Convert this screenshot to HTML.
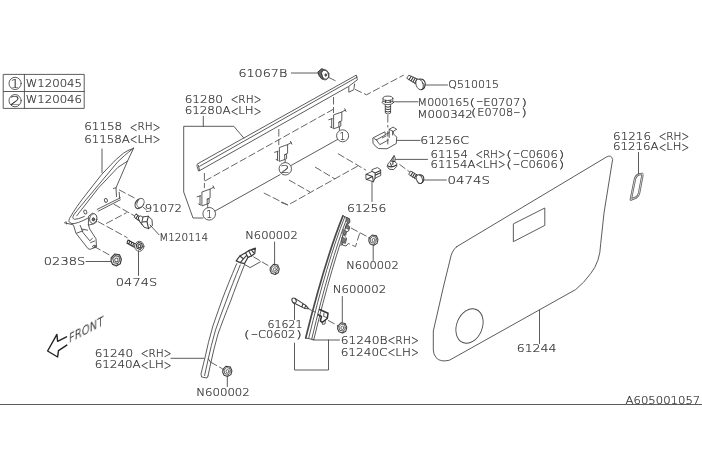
<!DOCTYPE html>
<html><head><meta charset="utf-8">
<style>
html,body{margin:0;padding:0;background:#fff;}
svg{display:block;}
text{font-family:"DejaVu Sans Light","DejaVu Sans","Liberation Sans",sans-serif;font-weight:200;font-size:10.8px;fill:#303030;stroke:#303030;stroke-width:0.22px;will-change:transform;}
.l{fill:none;stroke:#4a4a4a;stroke-width:0.9;stroke-linecap:round;stroke-linejoin:round;}
.d{fill:none;stroke:#555;stroke-width:0.9;stroke-dasharray:7.5 2.5;}
.k{fill:none;stroke:#222;stroke-width:1.4;stroke-linecap:round;stroke-linejoin:round;}
.w{fill:#fff;stroke:#4a4a4a;stroke-width:0.9;stroke-linejoin:round;}
</style></head><body>
<svg width="702" height="468" viewBox="0 0 702 468">
<rect width="702" height="468" fill="#fff"/>
<!-- TABLE -->
<g id="table">
<rect class="l" x="3.6" y="74.4" width="80.6" height="34"/>
<line class="l" x1="3.6" y1="91.5" x2="84.2" y2="91.5"/>
<line class="l" x1="24.4" y1="74.4" x2="24.4" y2="108.4"/>
<circle class="l" cx="15.1" cy="83.4" r="6.1"/>
<circle class="l" cx="15.1" cy="100.7" r="6.1"/>
</g>
<!-- BOTTOM LINE -->
<line class="l" x1="0" y1="404.5" x2="702" y2="404.5"/>
<defs>
<g id="nut">
<path class="w" style="stroke:#3c3c3c;stroke-width:1.05" d="M-4.4,-1.8 L-1.2,-5 L3,-4.2 L4.6,-0.4 L3.6,3.4 L0.4,5.2 L-3.2,4 L-4.6,1 Z"/>
<path class="l" style="stroke:#555;stroke-width:0.9" d="M-3.1,-1.3 L-0.8,-3.6 L2.4,-2.9 L3.4,0.4 L1.3,3.2 L-2.1,2.6 Z M-3.1,-1.3 L-4.4,-1.8 M2.4,-2.9 L3,-4.2 M1.3,3.2 L0.4,5.2"/>
<ellipse class="l" style="stroke:#555" cx="0.2" cy="0.1" rx="1.5" ry="1.7"/>
</g>
<g id="clip">
<path class="w" d="M201.9,192 L210.1,189.1 L210.1,197.8 L207.2,199.2 L207.2,204 L201.9,205.9 Z"/>
<path class="l" d="M207.2,199.2 L209.1,198.7 L209.1,203.2 L207.2,204 M207.7,204.5 L207.7,207.4"/>
<path class="l" d="M210.1,189.1 L213.6,187.2 M213,185.9 L214.3,188.6"/>
<path class="l" d="M197.1,196.8 L200.6,195.8 M200,195.8 V204.6 M198.6,204 L200.6,205"/>
</g>
</defs>
<!-- DOOR PANEL -->
<g id="panel" class="l">
<path d="M456.5,246.8 L606.3,157.1 Q611.6,154.2 612.6,159.5 L604,213 L600.7,243.8 Q600,262 590.7,273.5 Q584,283 575.6,289.6 L449.5,360.2 Q440,362.5 436,357.5 Q433.3,354 433.3,350 L433.3,331 L443.4,287 L450,260 Q451.5,251 456.5,246.8 Z"/>
<path d="M513.7,223.7 L544.8,208 L544.8,225.4 L513.7,241.5 Z"/>
<ellipse cx="469.5" cy="326" rx="12.8" ry="17.8" transform="rotate(22 469.5 326)"/>
</g>
<!-- 61216 -->
<path class="l" style="stroke-width:2.3;stroke:#555" d="M642.2,173.9 L638.9,174.4 Q636.2,175.2 635,178.8 L630.8,199.6 L636.3,197.4 Q638.4,196 639.1,193 L642.3,176 Z"/>
<path class="l" style="stroke-width:0.7;stroke:#fff" d="M642.2,173.9 L638.9,174.4 Q636.2,175.2 635,178.8 L630.8,199.6 L636.3,197.4 Q638.4,196 639.1,193 L642.3,176 Z"/>
<!-- STRIP 61280 -->
<g id="strip" class="l">
<path d="M197.8,163.7 L356.3,75.1 L357.4,79.8 L348.5,86.5 L199.6,170.6"/>
<path d="M199.6,166.3 L357,77.2"/>
<path d="M197.8,163.7 Q196.6,164.6 197,166.2 L198.6,171 L199.6,170.6 L198.4,165.4"/>
<path d="M348.8,86.9 L348.8,92.2 L353.8,89.8 L354.6,84"/>
</g>
<g id="stripdash" class="d">
<path d="M204.9,181 L335,108.3"/>
<path d="M204.4,173 V188"/>
<path d="M278.8,129 V145"/>
<path d="M333.5,97 V113"/>
<path d="M328.8,77.5 L337,81.5"/>
<path d="M355,89.4 L366.5,94.8 L403.8,75"/>
<path d="M337.9,153.6 L366,170.2"/>
<path d="M357.8,166 L288,205 L280,202"/>
<path d="M315,167 L335,179"/>
<path d="M289,180 L310,192"/>
<path d="M263.8,193 L287.8,205"/>
<path d="M387.8,115 V127.5"/>
<path d="M399.4,164.3 L410,172.2"/>
</g>
<use href="#clip"/>
<use href="#clip" transform="translate(77.5,-44.5)"/>
<use href="#clip" transform="translate(131.7,-77.1)"/>
<!-- numbered circles -->
<g id="numcircles">
<circle class="w" cx="209.2" cy="213.8" r="6.3"/>
<circle class="w" cx="285.3" cy="168.8" r="6.2"/>
<circle class="w" cx="342.6" cy="135.8" r="6"/>
</g>
<!-- TRIANGLE BRACKET 61158 -->
<g id="tri" class="l">
<path d="M133.6,148.2 Q127,150.5 123.6,153.1 L115.6,159.9 L101.9,174.2 L87.1,193 Q76,207 69.6,218.3 Q67.5,222.5 72,223.6 Q77,224 87.6,218.3"/>
<path d="M133.6,148.2 Q128,152.5 124.7,155.4 L117.9,161.7 L91.7,193 Q79,208 74,214.5 Q71.5,218.5 74.5,219.3 Q78,219.5 84.4,216.4"/>
<path d="M127.5,161.1 L117.9,167.4 L98.5,187.9 L76.7,215.8"/>
<path d="M133.6,148.2 L127.5,161.1 L116,187.8 L116.5,196.6 M113.4,188.4 L116,187.8 M119.2,192.3 L119.6,198.2"/>
<path d="M97.2,209.4 L120.3,197.8 M98.2,211.2 L120.3,199.8"/>
<ellipse cx="105.9" cy="200.4" rx="1.5" ry="1.9" transform="rotate(-25 105.9 200.4)"/>
<ellipse cx="85.3" cy="212" rx="1.5" ry="2" transform="rotate(-25 85.3 212)"/>
<path d="M64.5,222.8 L72.8,224.7 M66,221.5 L66.5,224"/>
<!-- lower bracket -->
<path d="M73.5,225.2 L75.9,233.1 L87.9,248.5 L89.8,249.4 L96.5,247 L96,238.8 L89.8,229.2 L88.4,225"/>
<path d="M80.2,225.4 L83,232.6 L89.8,240.8 L92.4,238.4 M76.6,233.2 L83,230.8 M81.6,229 L87.6,230.2 M90.6,242.6 L94.6,241"/>
<ellipse cx="94.1" cy="246.4" rx="1.5" ry="1.1" transform="rotate(-20 94.1 246.4)"/>
<!-- bush -->
<path class="w" d="M88.8,216 L92.4,213.2 L96,215 L96.6,222 L93.4,224 L88.8,225 Z"/>
<ellipse class="w" cx="93.3" cy="218.6" rx="3.6" ry="4.9" transform="rotate(12 93.3 218.6)"/>
<ellipse style="fill:#666" cx="93.4" cy="219.4" rx="1.3" ry="1.6" transform="rotate(12 93.4 219.4)"/>
</g>
<g class="d">
<path d="M119,189.8 L136.5,199"/>
<path d="M113.8,204.2 L134.4,215.8"/>
<path d="M106.2,223.5 L126.7,212.6"/>
<path d="M97.8,221.5 L127.5,237.8"/>
<path d="M94,246.4 L111.3,256"/>
</g>
<!-- cap 91072 -->
<g class="l">
<ellipse class="w" style="stroke-width:1.2" cx="138.8" cy="203.9" rx="3.5" ry="4.9" transform="rotate(22 138.8 203.9)"/>
<ellipse class="w" cx="140.5" cy="203" rx="3.4" ry="4.8" transform="rotate(22 140.5 203)"/>
<path d="M143.3,207.4 L146.4,209.8"/>
</g>
<!-- bolt M120114 -->
<g class="l" style="stroke:#333;stroke-width:1.05">
<path class="w" style="stroke:#333" d="M136.2,214.2 L141.4,217.8 L139.4,221 L134.4,217.4 Q134.2,214.6 136.2,214.2 Z"/>
<path d="M137.8,215.4 L136,218.6 M139.6,216.6 L137.8,219.8"/>
<ellipse class="w" style="stroke:#333" cx="142.2" cy="220.6" rx="2.6" ry="5.2" transform="rotate(-32 142.2 220.6)"/>
<path class="w" style="stroke:#333" d="M143.4,216.8 L148.4,216.2 L152,219.8 L152.4,225.6 L148.6,228.6 L144,227.2 L141.8,223.8 Z"/>
<path d="M148.4,216.2 L147,221.6 L148.6,228.6 M147,221.6 L142.4,222"/>
</g>
<!-- bolt 0474S left -->
<g class="l" style="stroke:#333;stroke-width:1.05">
<path d="M128,240 L135.8,244.2 L134.4,247.2 L127,243.2 Z M129.8,240.8 L128.8,244 M131.8,242 L130.8,245.2 M133.6,243 L132.8,246.2"/>
<ellipse class="w" cx="139.3" cy="246.3" rx="4.6" ry="5"/>
<path d="M136.4,244.6 L138.6,242.6 L141.8,243.6 L142.4,246.8 L140.2,249.4 L137,248.2 Z"/>
<ellipse cx="139.4" cy="246.2" rx="1.4" ry="1.6"/>
</g>
<use href="#nut" transform="translate(116.2,259.8) scale(1.12,1.16)"/>
<!-- clip 61067B -->
<g class="l">
<path class="w" d="M318.4,71.6 L321.6,68.9 L326.6,70.2 L329,73.4 L328.8,77.4 L325.2,80 L321.4,78.6 L318.8,75 Z"/>
<path style="fill:#666;stroke:#3a3a3a;stroke-width:0.9" d="M318.4,71.6 L321.6,68.9 L323.6,69.5 L321.2,72.8 L323.2,79.2 L321.4,78.6 L318.8,75 Z"/>
<ellipse cx="325.2" cy="74.8" rx="3.3" ry="4.7" transform="rotate(-18 325.2 74.8)"/>
<ellipse style="fill:#444" cx="325.8" cy="75" rx="0.8" ry="1.3"/>
</g>
<!-- screw Q510015 -->
<g class="l" style="stroke:#333;stroke-width:1.05">
<path class="w" d="M409.2,75.3 L418.5,79.6 L416,83.9 L407.1,78.5 Z"/>
<path d="M411.2,76.3 L409,79.7 M413.2,77.2 L411,80.9 M415.2,78.1 L413,82.1 M417,79 L414.8,83.2"/>
<ellipse class="w" cx="419.6" cy="84.4" rx="3.5" ry="5.5" transform="rotate(-20 419.6 84.4)"/>
<path d="M419.6,79 Q424.4,78.8 425.2,83 Q425.8,88 421.4,89.8"/>
</g>
<!-- bolt M000165 -->
<g class="l" style="stroke:#383838;stroke-width:1">
<path class="w" d="M385.3,103.6 V113 Q387.9,115.4 390.6,113 V103.6"/>
<path d="M385.3,106.6 Q387.9,108 390.6,106.6 M385.3,109 Q387.9,110.4 390.6,109 M385.3,111.4 Q387.9,112.8 390.6,111.4"/>
<ellipse class="w" cx="387.8" cy="102.4" rx="5.7" ry="2.2"/>
<path class="w" d="M383,98.3 V101.4 Q387.9,103.6 392.8,101.4 V98.3"/>
<ellipse class="w" cx="387.9" cy="98.3" rx="4.9" ry="2.2"/>
<path d="M385.6,100.2 V102.6 M390.2,100.2 V102.6"/>
</g>
<!-- clip 61256C -->
<g class="l">
<path class="w" d="M373.2,137.8 L384.9,131.8 L385.3,134.6 L389.2,132.6 L389.2,129.3 L393.1,127.1 L396.7,129.3 L393.2,131.4 L393.5,133.9 L396.7,137.1 L396.3,143.5 L387,148.8 L378.5,148.5 Q375,146.5 373.2,143.5 Z"/>
<path d="M389.2,129.3 L392.6,131.2 L393.2,131.4 M392.6,131.2 L392.6,135 M389.2,132.6 L389.2,137.4 M376.4,139.9 L385.3,134.9 M376.4,139.9 L379.8,144.6 L388.4,140 M374.2,138.6 L376.4,139.9 M382.4,137.8 L386,136"/>
<path d="M387.8,131.6 V136.2 M387.8,139 V144"/>
</g>
<!-- clip 61154 -->
<g class="l" style="stroke:#3a3a3a;stroke-width:1.05">
<path class="w" style="stroke:#3a3a3a" d="M393.9,155.7 L390.6,161 L388.2,163.4 L387.2,166.4 L389.2,169.2 L393.6,169.6 L396.6,166.6 L396.8,163.6 L394.8,161.6 L395.2,158.8 Z"/>
<path d="M390.6,161 L394.8,161.6 M388,166 Q391.6,168.2 396.6,165 M393.2,157.4 L392.8,164.4 M390.4,163.2 L391.6,166.4"/>
</g>
<!-- screw 0474S right -->
<g class="l" style="stroke:#333;stroke-width:1.05">
<path class="w" d="M411,171.2 L418.2,175.6 L416.2,179.2 L409,174.6 Z"/>
<path d="M412.8,172.2 L410.8,175.8 M414.6,173.4 L412.6,177 M416.4,174.5 L414.4,178.1"/>
<ellipse class="w" cx="419.4" cy="179.2" rx="2.9" ry="4.5" transform="rotate(-22 419.4 179.2)"/>
<path d="M419.6,174.8 Q423.4,174.8 423.8,178.4 Q424,182.4 420.6,183.6"/>
</g>
<!-- clip 61256 -->
<g class="l" style="stroke:#3a3a3a;stroke-width:1.05">
<path class="w" d="M366.2,174.3 L372,171.4 L372,169.6 L377.4,167.6 L380.6,169.6 L380.8,175.4 L375,178.4 L373.4,181.8 L366.4,179.4 Z"/>
<path d="M366.2,174.3 L372.6,176.6 L373.4,181.8 M372.6,176.6 L366.4,179.4 M372,171.4 L375.2,173 L375,178.4 M375.2,173 L380.6,170.6 M375.2,175.2 L380.6,172.8"/>
</g>
<!-- LEFT RAIL 61240 -->
<g id="lrail" class="l">
<path d="M236.7,263.7 Q228,284 222,300 Q216,317 212.9,326 Q208,343 204.9,358 L201,374 L201.6,377 L207,378 L208,376"/>
<path d="M244.4,265 Q236,286 231,300 Q223,320 218,334 Q213.5,350 211,362 L208,376"/>
<path d="M240.2,265 Q232,285 226.5,300 Q220,317 215.5,330 Q211,346 208,360 L204.6,375.5"/>
<path class="w" style="stroke-width:1.25;stroke:#3a3a3a" d="M236.2,260.9 L239.8,256 L245.5,252.8 L248.7,250.7 L255.4,248.2 L254.7,253.5 L251.5,256 L248,257.3 L244.4,263.7 L240.3,262.6 Z"/>
<path style="stroke:#3a3a3a;stroke-width:1.1" d="M239.8,256 L243.4,258.8 L240.3,262.6 M245.5,252.8 L248,257.3 M248.7,250.7 L251.5,256 M251.4,249.8 L253.6,252.6 M243.4,258.8 L246.4,255.6"/>
<path d="M244.4,264.4 L250.1,267.6 L260.4,261.8"/>
<path d="M208.4,358.8 L210.6,362.4"/>
</g>
<g class="d">
<path d="M253.3,256.7 L269.8,266.5"/>
<path d="M210.4,362 L222.5,368.8"/>
</g>
<use href="#nut" transform="translate(274.7,269.3)"/>
<use href="#nut" transform="translate(227.3,371.2)"/>
<!-- RIGHT RAIL 61240B -->
<g id="rrail" class="l">
<path style="stroke-width:1.7;stroke:#4a4a4a" d="M342.9,215.9 Q324.7,261.3 305.7,338"/>
<path d="M344.8,216.8 Q327,261.5 308.6,338.6"/>
<path d="M347,217.8 Q330,261.8 311.7,339.2"/>
<path d="M349,218.7 Q332.5,262 313.8,339.6"/>
<path d="M342.8,215.8 L349,218.6 L349.3,221 M305.5,338 L313.8,339.6"/>
<path style="stroke-width:0.9;stroke:#444" d="M349.3,221 L347.2,226 L349.6,228 L348.5,231 L346,232 L344.5,236 L346.6,238 L345,241.4 L343,242 L342.4,245 L346,246 L348.4,243.4"/>
<path d="M346.8,223.5 L345,228.5 M344,232 L342,238 M342.5,241 L341,245.6"/>
<path style="fill:#777;stroke:#444;stroke-width:0.7" d="M346.4,217.6 L349.6,219 L350,222.4 L348.4,223.6 L346.6,221.6 Z M346.8,224.4 L349.8,226.6 L348.6,229.4 L346,228 Z M343.6,229.6 L346.6,231.4 L345.8,235.2 L342.8,233.6 Z M342.6,237.2 L346.4,239.4 L345.4,243.4 L341.6,242 Z"/>
<!-- bracket lower -->
<path style="stroke-width:1.5;stroke:#333" d="M319.6,309.5 L328,313.3 L327.3,318.5 L322.2,322.3 L320.4,320.8 L321.5,316.5 L318.4,314.8"/>
<path d="M322.2,322.3 L322.4,324.4 L325,324 L325.4,320.6 M324,313 L323.6,316.4 L327,317.6"/>
<!-- pin 61621 -->
<ellipse class="w" style="stroke-width:1.1" cx="294.1" cy="300.6" rx="2" ry="2.6" transform="rotate(-30 294.1 300.6)"/>
<path style="stroke:#3a3a3a;stroke-width:1.05" d="M295,298.4 L305.8,305.4 L308.7,308.8 L304.6,308.4 L293.4,302.8 M305.8,305.4 L304.6,308.4 M303,303.8 L301.8,306.9"/>
</g>
<g class="d">
<path d="M351,228 L369.5,237.8"/>
<path d="M359.6,233.4 L355.5,246.7 L348.5,243.5"/>
<path d="M328,320.4 L337.8,325.6"/>
<path d="M309,309 L318.6,314"/>
</g>
<use href="#nut" transform="translate(373.4,240)"/>
<use href="#nut" transform="translate(342.2,327.8)"/>
<!-- FRONT ARROW -->
<path class="k" d="M66.5,336.8 L57.6,341.3 L56.9,334.4 L47.6,351 L57.6,357 L58.5,350.6 L66.8,345.1"/>
<!-- LEADERS -->
<g id="leaders" class="l">
<path d="M102,149 V172.5"/>
<path d="M150,225 L159,234.7"/>
<path d="M86,261.5 H111"/>
<path d="M138.5,251 V275.5"/>
<path d="M171,358.3 H204"/>
<path d="M291.3,73 H318"/>
<path d="M203.3,116.3 V126.3"/>
<path d="M243.8,138 L233.8,126.3 H183.7 V192 L193,218 H203"/>
<path d="M424.5,85 H447.5"/>
<path d="M393.6,101.8 H418"/>
<path d="M397.2,140.4 H420"/>
<path d="M395.3,159.4 H427.5"/>
<path d="M423,180 H446.3"/>
<path d="M372,181.5 V201.5"/>
<path d="M274.6,242 V264"/>
<path d="M373.2,245 V260.5"/>
<path d="M342.3,296.5 V323"/>
<path d="M227.3,376 V386.5"/>
<path d="M294.5,304 V319.5"/>
<path d="M294.5,343 V370 H328.5 V340"/>
<path d="M313,340 H339.5"/>
<path d="M539.5,310.3 V343.5"/>
<path d="M638.5,152.4 V174"/>
<path d="M215,211 L280,174.7"/>
<path d="M291,165.5 L337.5,139.5"/>
</g>
<g id="labels">
<text><tspan x="84.19" y="130.3" textLength="38.06" lengthAdjust="spacingAndGlyphs">61158</tspan> <tspan x="129.86" y="131.6" font-size="14.2" textLength="7.61" lengthAdjust="spacingAndGlyphs">&lt;</tspan><tspan x="137.47" y="130.3" textLength="15.22" lengthAdjust="spacingAndGlyphs">RH</tspan><tspan x="152.69" y="131.6" font-size="14.2" textLength="7.61" lengthAdjust="spacingAndGlyphs">&gt;</tspan></text>
<text><tspan x="84.19" y="142.5" textLength="45.67" lengthAdjust="spacingAndGlyphs">61158A</tspan><tspan x="129.86" y="143.8" font-size="14.2" textLength="7.61" lengthAdjust="spacingAndGlyphs">&lt;</tspan><tspan x="137.47" y="142.5" textLength="15.22" lengthAdjust="spacingAndGlyphs">LH</tspan><tspan x="152.69" y="143.8" font-size="14.2" textLength="7.61" lengthAdjust="spacingAndGlyphs">&gt;</tspan></text>
<text><tspan x="144.89" y="212.2" textLength="37.13" lengthAdjust="spacingAndGlyphs">91072</tspan></text>
<text><tspan x="159.21" y="241.1" textLength="48.88" lengthAdjust="spacingAndGlyphs">M120114</tspan></text>
<text><tspan x="43.88" y="264.5" textLength="41.25" lengthAdjust="spacingAndGlyphs">0238S</tspan></text>
<text><tspan x="115.88" y="286.0" textLength="41.25" lengthAdjust="spacingAndGlyphs">0474S</tspan></text>
<text><tspan x="94.66" y="356.8" textLength="38.44" lengthAdjust="spacingAndGlyphs">61240</tspan> <tspan x="140.79" y="358.1" font-size="14.2" textLength="7.69" lengthAdjust="spacingAndGlyphs">&lt;</tspan><tspan x="148.48" y="356.8" textLength="15.38" lengthAdjust="spacingAndGlyphs">RH</tspan><tspan x="163.86" y="358.1" font-size="14.2" textLength="7.69" lengthAdjust="spacingAndGlyphs">&gt;</tspan></text>
<text><tspan x="94.66" y="368.3" textLength="46.13" lengthAdjust="spacingAndGlyphs">61240A</tspan><tspan x="140.79" y="369.6" font-size="14.2" textLength="7.69" lengthAdjust="spacingAndGlyphs">&lt;</tspan><tspan x="148.48" y="368.3" textLength="15.38" lengthAdjust="spacingAndGlyphs">LH</tspan><tspan x="163.86" y="369.6" font-size="14.2" textLength="7.69" lengthAdjust="spacingAndGlyphs">&gt;</tspan></text>
<text><tspan x="238.43" y="77.0" textLength="48.84" lengthAdjust="spacingAndGlyphs">61067B</tspan></text>
<text><tspan x="184.67" y="102.5" textLength="38.33" lengthAdjust="spacingAndGlyphs">61280</tspan> <tspan x="230.67" y="103.8" font-size="14.2" textLength="7.67" lengthAdjust="spacingAndGlyphs">&lt;</tspan><tspan x="238.33" y="102.5" textLength="15.33" lengthAdjust="spacingAndGlyphs">RH</tspan><tspan x="253.67" y="103.8" font-size="14.2" textLength="7.67" lengthAdjust="spacingAndGlyphs">&gt;</tspan></text>
<text><tspan x="184.67" y="114.3" textLength="46.00" lengthAdjust="spacingAndGlyphs">61280A</tspan><tspan x="230.67" y="115.6" font-size="14.2" textLength="7.67" lengthAdjust="spacingAndGlyphs">&lt;</tspan><tspan x="238.33" y="114.3" textLength="15.33" lengthAdjust="spacingAndGlyphs">LH</tspan><tspan x="253.67" y="115.6" font-size="14.2" textLength="7.67" lengthAdjust="spacingAndGlyphs">&gt;</tspan></text>
<text><tspan x="448.38" y="88.3" textLength="50.75" lengthAdjust="spacingAndGlyphs">Q510015</tspan></text>
<text><tspan x="417.59" y="106.3" textLength="51.92" lengthAdjust="spacingAndGlyphs">M000165</tspan></text>
<text><tspan x="469.20" y="105.5" textLength="6.20" lengthAdjust="spacingAndGlyphs">(</tspan><tspan x="475.99" y="104.1" textLength="7.39" lengthAdjust="spacingAndGlyphs">-</tspan><tspan x="483.38" y="105.5" textLength="36.93" lengthAdjust="spacingAndGlyphs">E0707</tspan><tspan x="520.90" y="105.5" textLength="6.20" lengthAdjust="spacingAndGlyphs">)</tspan></text>
<text><tspan x="417.34" y="117.5" textLength="55.42" lengthAdjust="spacingAndGlyphs">M000342</tspan></text>
<text><tspan x="470.79" y="116.0" textLength="6.02" lengthAdjust="spacingAndGlyphs">(</tspan><tspan x="477.39" y="116.0" textLength="35.86" lengthAdjust="spacingAndGlyphs">E0708</tspan><tspan x="513.24" y="114.6" textLength="7.17" lengthAdjust="spacingAndGlyphs">-</tspan><tspan x="520.99" y="116.0" textLength="6.02" lengthAdjust="spacingAndGlyphs">)</tspan></text>
<text><tspan x="420.23" y="143.8" textLength="48.84" lengthAdjust="spacingAndGlyphs">61256C</tspan></text>
<text><tspan x="430.56" y="157.5" textLength="37.41" lengthAdjust="spacingAndGlyphs">61154</tspan> <tspan x="475.45" y="158.8" font-size="14.2" textLength="7.48" lengthAdjust="spacingAndGlyphs">&lt;</tspan><tspan x="482.94" y="157.5" textLength="14.96" lengthAdjust="spacingAndGlyphs">RH</tspan><tspan x="497.90" y="158.8" font-size="14.2" textLength="7.48" lengthAdjust="spacingAndGlyphs">&gt;</tspan><tspan x="505.98" y="157.5" textLength="6.29" lengthAdjust="spacingAndGlyphs">(</tspan><tspan x="512.86" y="156.1" textLength="7.48" lengthAdjust="spacingAndGlyphs">-</tspan><tspan x="520.35" y="157.5" textLength="37.41" lengthAdjust="spacingAndGlyphs">C0606</tspan><tspan x="558.36" y="157.5" textLength="6.29" lengthAdjust="spacingAndGlyphs">)</tspan></text>
<text><tspan x="430.56" y="168.0" textLength="44.89" lengthAdjust="spacingAndGlyphs">61154A</tspan><tspan x="475.45" y="169.3" font-size="14.2" textLength="7.48" lengthAdjust="spacingAndGlyphs">&lt;</tspan><tspan x="482.94" y="168.0" textLength="14.96" lengthAdjust="spacingAndGlyphs">LH</tspan><tspan x="497.90" y="169.3" font-size="14.2" textLength="7.48" lengthAdjust="spacingAndGlyphs">&gt;</tspan><tspan x="505.98" y="168.0" textLength="6.29" lengthAdjust="spacingAndGlyphs">(</tspan><tspan x="512.86" y="166.6" textLength="7.48" lengthAdjust="spacingAndGlyphs">-</tspan><tspan x="520.35" y="168.0" textLength="37.41" lengthAdjust="spacingAndGlyphs">C0606</tspan><tspan x="558.36" y="168.0" textLength="6.29" lengthAdjust="spacingAndGlyphs">)</tspan></text>
<text><tspan x="447.55" y="183.8" textLength="42.50" lengthAdjust="spacingAndGlyphs">0474S</tspan></text>
<text><tspan x="347.07" y="211.6" textLength="39.25" lengthAdjust="spacingAndGlyphs">61256</tspan></text>
<text><tspan x="245.25" y="239.4" textLength="52.50" lengthAdjust="spacingAndGlyphs">N600002</tspan></text>
<text><tspan x="346.25" y="269.3" textLength="52.50" lengthAdjust="spacingAndGlyphs">N600002</tspan></text>
<text><tspan x="332.78" y="293.0" textLength="53.43" lengthAdjust="spacingAndGlyphs">N600002</tspan></text>
<text><tspan x="196.17" y="395.5" textLength="53.67" lengthAdjust="spacingAndGlyphs">N600002</tspan></text>
<text><tspan x="267.50" y="328.0" textLength="35.00" lengthAdjust="spacingAndGlyphs">61621</tspan></text>
<text><tspan x="243.88" y="338.4" textLength="6.24" lengthAdjust="spacingAndGlyphs">(</tspan><tspan x="250.71" y="337.0" textLength="7.43" lengthAdjust="spacingAndGlyphs">-</tspan><tspan x="258.14" y="338.4" textLength="37.14" lengthAdjust="spacingAndGlyphs">C0602</tspan><tspan x="295.88" y="338.4" textLength="6.24" lengthAdjust="spacingAndGlyphs">)</tspan></text>
<text><tspan x="340.70" y="344.0" textLength="46.80" lengthAdjust="spacingAndGlyphs">61240B</tspan><tspan x="387.50" y="345.3" font-size="14.2" textLength="7.80" lengthAdjust="spacingAndGlyphs">&lt;</tspan><tspan x="395.30" y="344.0" textLength="15.60" lengthAdjust="spacingAndGlyphs">RH</tspan><tspan x="410.90" y="345.3" font-size="14.2" textLength="7.80" lengthAdjust="spacingAndGlyphs">&gt;</tspan></text>
<text><tspan x="340.70" y="356.0" textLength="46.80" lengthAdjust="spacingAndGlyphs">61240C</tspan><tspan x="387.50" y="357.3" font-size="14.2" textLength="7.80" lengthAdjust="spacingAndGlyphs">&lt;</tspan><tspan x="395.30" y="356.0" textLength="15.60" lengthAdjust="spacingAndGlyphs">LH</tspan><tspan x="410.90" y="357.3" font-size="14.2" textLength="7.80" lengthAdjust="spacingAndGlyphs">&gt;</tspan></text>
<text><tspan x="516.73" y="352.2" textLength="39.75" lengthAdjust="spacingAndGlyphs">61244</tspan></text>
<text><tspan x="613.11" y="139.7" textLength="37.94" lengthAdjust="spacingAndGlyphs">61216</tspan> <tspan x="658.64" y="141.0" font-size="14.2" textLength="7.59" lengthAdjust="spacingAndGlyphs">&lt;</tspan><tspan x="666.23" y="139.7" textLength="15.18" lengthAdjust="spacingAndGlyphs">RH</tspan><tspan x="681.41" y="141.0" font-size="14.2" textLength="7.59" lengthAdjust="spacingAndGlyphs">&gt;</tspan></text>
<text><tspan x="613.11" y="150.2" textLength="45.53" lengthAdjust="spacingAndGlyphs">61216A</tspan><tspan x="658.64" y="151.5" font-size="14.2" textLength="7.59" lengthAdjust="spacingAndGlyphs">&lt;</tspan><tspan x="666.23" y="150.2" textLength="15.18" lengthAdjust="spacingAndGlyphs">LH</tspan><tspan x="681.41" y="151.5" font-size="14.2" textLength="7.59" lengthAdjust="spacingAndGlyphs">&gt;</tspan></text>
<text><tspan x="25.68" y="86.7" textLength="56.35" lengthAdjust="spacingAndGlyphs">W120045</tspan></text>
<text><tspan x="25.68" y="103.2" textLength="56.35" lengthAdjust="spacingAndGlyphs">W120046</tspan></text>
<text><tspan x="625.57" y="403.6" textLength="74.67" lengthAdjust="spacingAndGlyphs">A605001057</tspan></text>
<text y="87.8" style="font-size:12px"><tspan x="10.6" textLength="9" lengthAdjust="spacingAndGlyphs">1</tspan></text>
<text y="105" style="font-size:12px"><tspan x="9.9" textLength="10.4" lengthAdjust="spacingAndGlyphs">2</tspan></text>
<text><tspan x="206.20" y="217.6" textLength="6.00" lengthAdjust="spacingAndGlyphs">1</tspan></text>
<text><tspan x="280.60" y="172.5" textLength="9.20" lengthAdjust="spacingAndGlyphs">2</tspan></text>
<text><tspan x="339.60" y="139.6" textLength="6.00" lengthAdjust="spacingAndGlyphs">1</tspan></text>
<text transform="translate(68.9,343.4) rotate(-27.6) skewX(-28)" style="font-size:11.4px;stroke-width:0.3px" textLength="39" lengthAdjust="spacingAndGlyphs">FRONT</text>
</g>
</svg>
</body></html>
